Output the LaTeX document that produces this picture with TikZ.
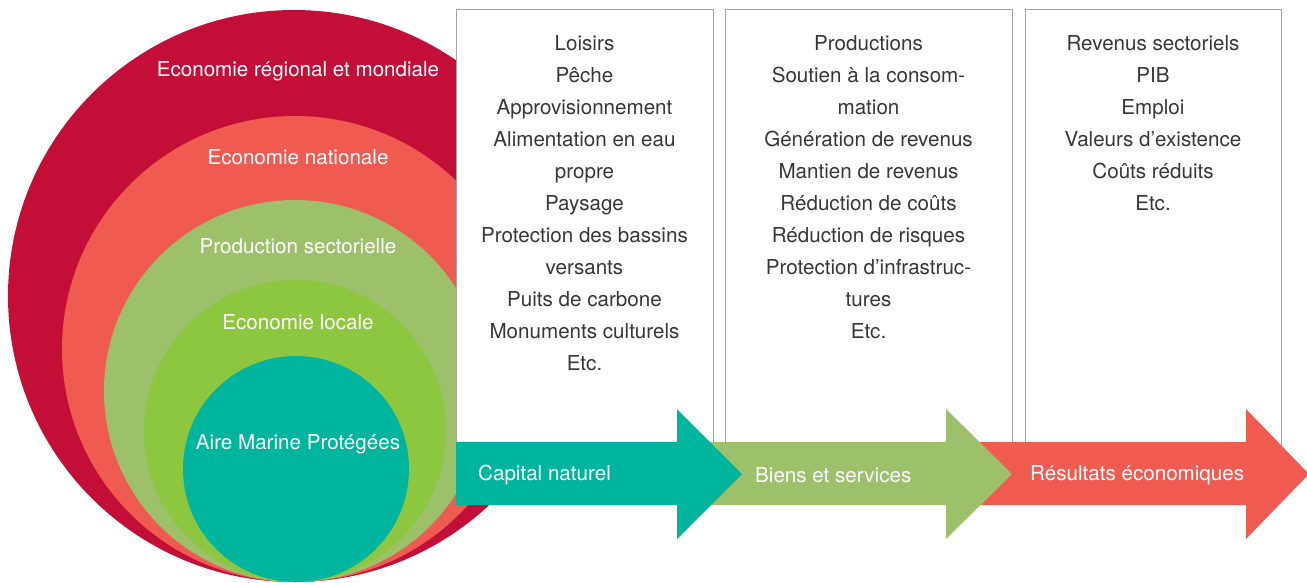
\documentclass[tikz,border=0pt]{standalone}
\usepackage{fontspec}
\setmainfont{TeX Gyre Heros}
\usepackage{tikz}
\definecolor{crim}{RGB}{195, 14, 55}
\definecolor{salm}{RGB}{239, 91, 80}
\definecolor{lgreen}{RGB}{157, 192, 107}
\definecolor{lime}{RGB}{141, 198, 63}
\definecolor{ampteal}{RGB}{0, 181, 157}
\definecolor{boxline}{RGB}{165, 165, 168}
\definecolor{txt}{RGB}{55, 55, 55}
\usetikzlibrary{positioning}

\begin{document}
\begin{tikzpicture}
		[x=1pt, y=-1pt, every node/.style={inner sep=0pt},
		 lbl/.style={font=\fontsize{20.6}{32}\selectfont, text=white},
		 lst/.style={align=center, font=\fontsize{20.6}{32}\selectfont, text=txt},
		 col/.style={rectangle, draw=boxline, fill=white, line width=1pt, minimum width=#1, minimum height=465pt, anchor=north}]
		\useasboundingbox (0,0) rectangle (1307,582);
		% the nested circles
		\node (eco) [circle, minimum size=572pt, fill=crim] at (294, 296) {};
		\node (nat) [circle, minimum size=466pt, fill=salm] at (295, 349) {};
		\node (sect) [circle, minimum size=382pt, fill=lgreen] at (295, 391) {};
		\node (loc) [circle, minimum size=302pt, fill=lime] at (295, 431) {};
		\node (amp) [circle, minimum size=226pt, fill=ampteal] at (296, 469) {};
		% the three columns
		\node (box1) [col=257pt] at (584.5, 9) {};
		\node (box2) [col=287pt] at (868.5, 9) {};
		\node (box3) [col=256pt] at (1153, 9) {};
		\node (list1) [lst, below=26pt of box1.north] {Loisirs\\Pêche\\Approvisionnement\\Alimentation en eau\\propre\\Paysage\\Protection des bassins\\versants\\Puits de carbone\\Monuments culturels\\Etc.};
		\node (list2) [lst, below=26pt of box2.north] {Productions\\Soutien à la consom-\\mation\\Génération de revenus\\Mantien de revenus\\Réduction de coûts\\Réduction de risques\\Protection d’infrastruc-\\tures\\Etc.};
		\node (list3) [lst, below=26pt of box3.north] {Revenus sectoriels\\PIB\\Emploi\\Valeurs d’existence\\Coûts réduits\\Etc.};
		% arrows, last one first
		\fill [salm] (960,442) -- (1246,442) -- (1246,409) -- (1309,474) -- (1246,539) -- (1246,505) -- (960,505) -- cycle;
		\fill [lgreen] (700,442) -- (946,442) -- (946,409) -- (1012,474) -- (946,539) -- (946,505) -- (700,505) -- cycle;
		\fill [ampteal] (456,442) -- (677,442) -- (677,409) -- (742,474) -- (677,539) -- (677,505) -- (456,505) -- cycle;
		\node (cap) [lbl, anchor=west] at (478, 475) {Capital naturel};
		\node (bien) [lbl, anchor=west] at (755, 475) {Biens et services};
		\node (res) [lbl, anchor=west] at (1030, 475) {Résultats économiques};
		% circle labels
		\node (ecolbl) [lbl] at (298, 71) {Economie régional et mondiale};
		\node (natlbl) [lbl] at (298, 157) {Economie nationale};
		\node (sectlbl) [lbl] at (298, 246) {Production sectorielle};
		\node (loclbl) [lbl] at (298, 322) {Economie locale};
		\node (amplbl) [lbl] at (298, 444) {Aire Marine Protégées};
\end{tikzpicture}
\end{document}
